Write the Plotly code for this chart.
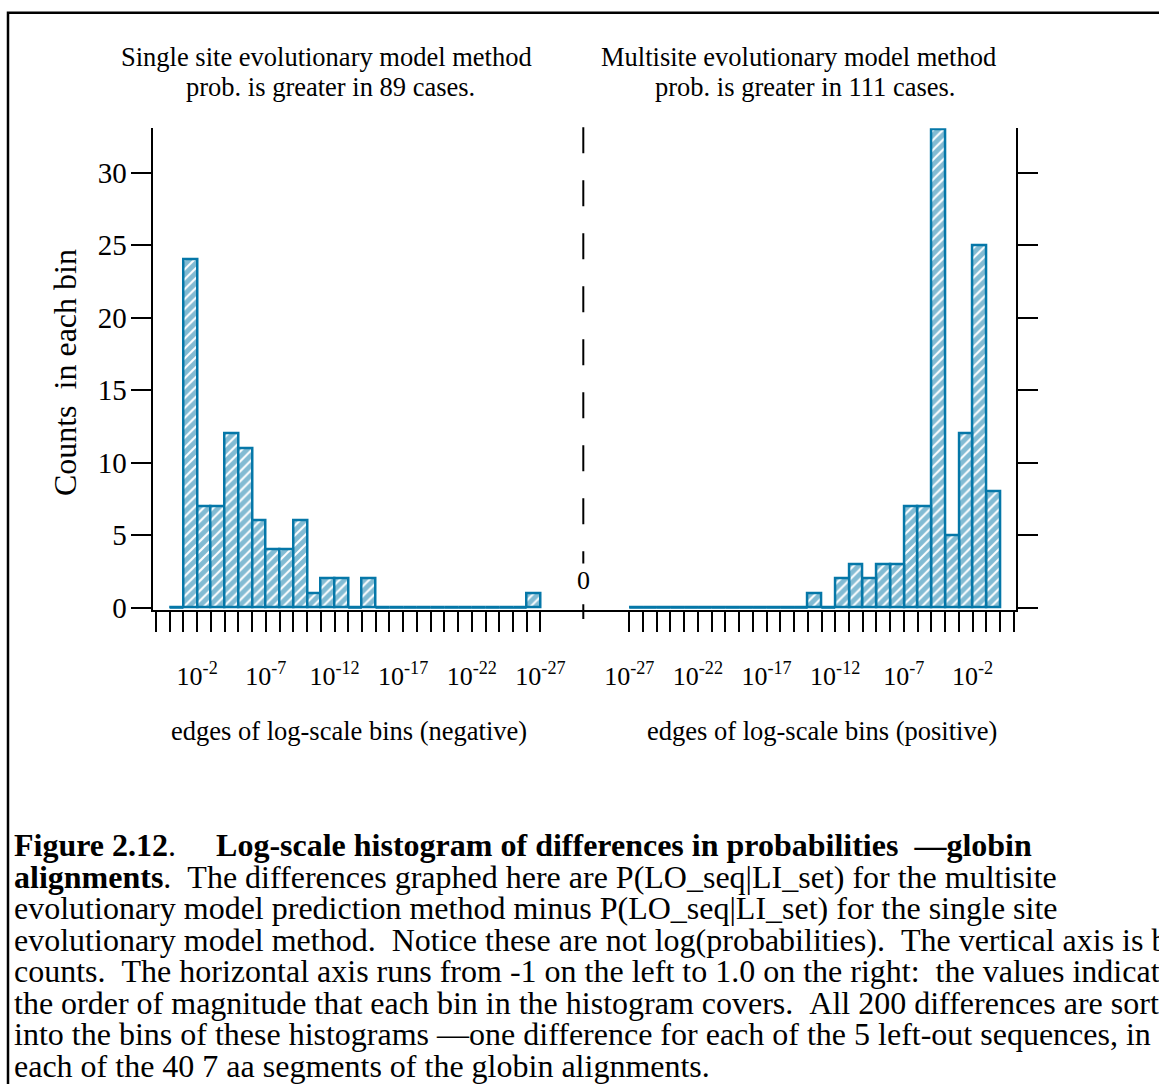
import plotly.graph_objects as go

# ---- data -------------------------------------------------------------
# bin j holds |difference| between 10^-j and 10^-(j+1)
bin_index = list(range(27))
neg_counts = [0, 24, 7, 7, 12, 11, 6, 4, 4, 6, 1, 2, 2, 0, 2,
              0, 0, 0, 0, 0, 0, 0, 0, 0, 0, 0, 1]
pos_counts = [8, 25, 12, 5, 33, 7, 7, 3, 3, 2, 3, 2, 0, 1,
              0, 0, 0, 0, 0, 0, 0, 0, 0, 0, 0, 0, 0]
edge_exponents = list(range(1, -28, -1))          # decade edges with tick marks
labeled_exponents = [-2, -7, -12, -17, -22, -27]  # edges that carry a label
y_ticks = [0, 5, 10, 15, 20, 25, 30]

NB = "\u00a0"
caption_lines = [
    f"<b>Figure 2.12</b>.{NB * 5}<b>Log-scale histogram of differences in probabilities"
    f"{NB * 2}—globin</b>",
    f"<b>alignments</b>.{NB * 2}The differences graphed here are P(LO_seq|LI_set) for the multisite",
    "evolutionary model prediction method minus P(LO_seq|LI_set) for the single site",
    f"evolutionary model method.{NB * 2}Notice these are not log(probabilities).{NB * 2}The vertical axis is bin",
    f"counts.{NB * 2}The horizontal axis runs from -1 on the left to 1.0 on the right:{NB * 2}the values indicate",
    f"the order of magnitude that each bin in the histogram covers.{NB * 2}All 200 differences are sorted",
    "into the bins of these histograms \u2014one difference for each of the 5 left-out sequences, in",
    "each of the 40 7 aa segments of the globin alignments.",
]

# ---- page geometry (pixels -> paper fractions) ------------------------
W, H = 1159, 1084
def px(x):
    return x / W
def py(y):
    return 1 - y / H

BLUE = "#0577a8"
FONT = "Liberation Serif, Times New Roman, serif"

x_centers = [-(j + 0.5) for j in bin_index]
tick_text = [f"10<sup>{e}</sup>" if e in labeled_exponents else "" for e in edge_exponents]


def zero_baseline(counts):
    """Thin outline drawn along empty bins."""
    xs, ys = [], []
    for j, c in zip(bin_index, counts):
        if c == 0:
            xs += [-j, -(j + 1), None]
            ys += [0, 0, None]
    return xs, ys


bar_marker = dict(
    color="white",
    line=dict(color=BLUE, width=2.5),
    pattern=dict(shape="/", fgcolor=BLUE, bgcolor="white", size=7, solidity=0.72),
)

fig = go.Figure()
for counts, xa, ya in [(neg_counts, "x", "y"), (pos_counts, "x2", "y2")]:
    bx, by = zero_baseline(counts)
    fig.add_trace(go.Scatter(x=bx, y=by, mode="lines", line=dict(color=BLUE, width=2),
                             xaxis=xa, yaxis=ya, hoverinfo="skip"))
    fig.add_trace(go.Bar(x=x_centers, y=counts, width=1, marker=bar_marker,
                         xaxis=xa, yaxis=ya))

axis_common = dict(
    showline=True, linecolor="black", linewidth=2,
    ticks="outside", ticklen=20, tickwidth=2, tickcolor="black",
    showgrid=False, zeroline=False,
    tickfont=dict(family=FONT, size=26, color="black"),
)

fig.update_layout(
    width=W, height=H,
    margin=dict(l=0, r=0, t=0, b=0),
    paper_bgcolor="white", plot_bgcolor="white",
    showlegend=False, bargap=0,
    xaxis=dict(axis_common, domain=[px(152.5), px(583.3)], range=[1.255, -30.12],
               tickmode="array", tickvals=edge_exponents, ticktext=tick_text,
               anchor="y", ticklabelstandoff=22),
    xaxis2=dict(axis_common, domain=[px(583.3), px(1015.5)], range=[-30.35, 1.13],
                tickmode="array", tickvals=edge_exponents, ticktext=tick_text,
                anchor="y2", ticklabelstandoff=22),
    yaxis=dict(axis_common, domain=[py(617.5), py(130)], range=[-0.12, 33.05],
               tickmode="array", tickvals=y_ticks, anchor="x", side="left",
               ticklabelstandoff=-2,
               tickfont=dict(family=FONT, size=29, color="black")),
    yaxis2=dict(axis_common, domain=[py(617.5), py(130)], range=[-0.12, 33.05],
                tickmode="array", tickvals=y_ticks, anchor="x2", side="right",
                showticklabels=False),
)

# dashed divider at zero difference
fig.add_shape(type="line", xref="paper", yref="paper",
              x0=px(583.3), x1=px(583.3), y0=py(129), y1=py(627),
              line=dict(color="black", width=2, dash="26px,27px"))
# page frame
fig.add_shape(type="rect", xref="paper", yref="paper",
              x0=px(8), x1=px(1220), y0=py(13), y1=py(1130),
              line=dict(color="black", width=2.5))

def note(text, x, y, size=26.5, xanchor="center", **kw):
    fig.add_annotation(text=text, xref="paper", yref="paper", x=px(x), y=py(y),
                       xanchor=xanchor, yanchor="middle", showarrow=False,
                       font=dict(family=FONT, size=size, color="black"), **kw)

note("0", 583.3, 588, size=26, bgcolor="white", borderpad=2)

note("Single site evolutionary model method", 327, 58)
note(f"prob. is greater in {sum(neg_counts)} cases.", 331, 88)
note("Multisite evolutionary model method", 798, 58)
note(f"prob. is greater in {sum(pos_counts)} cases.", 805, 88)

note("edges of log-scale bins (negative)", 348.5, 741)
note("edges of log-scale bins (positive)", 821.5, 741)

note(f"Counts{NB * 2}in each bin", 65, 378, size=32, textangle=-90)

for i, line in enumerate(caption_lines):
    note(line, 12, 856 + 32 * i, size=32, xanchor="left", align="left")

fig.write_html("out.html")
